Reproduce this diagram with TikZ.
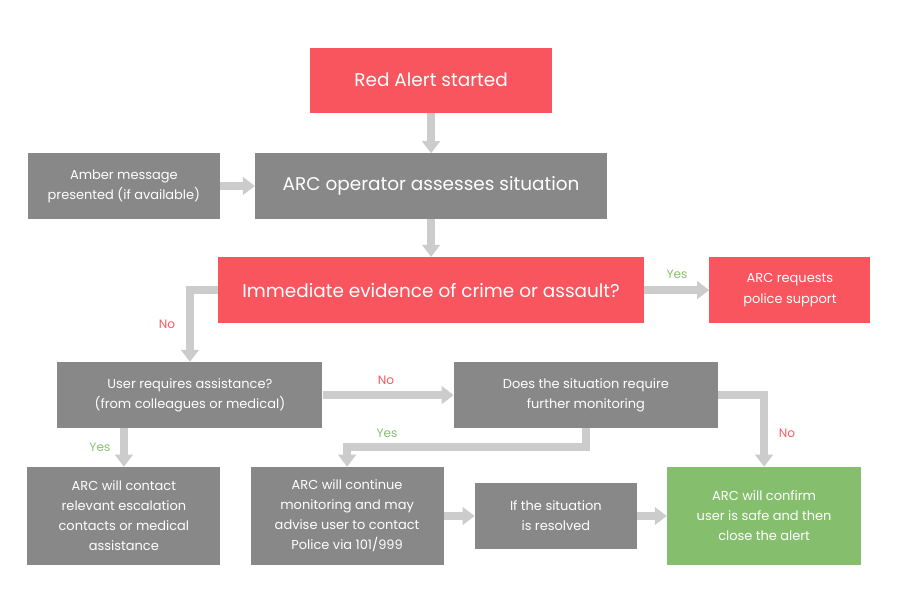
\documentclass[tikz,border=0pt]{standalone}
\usepackage{fontspec}
\setmainfont{Poppins}
\usepackage{tikz}
\usetikzlibrary{arrows.meta, positioning, calc}
\definecolor{alertred}{HTML}{F9555E}
\definecolor{boxgray}{HTML}{888888}
\definecolor{arrowgray}{HTML}{CCCCCC}
\definecolor{okgreen}{HTML}{85BF6E}
\definecolor{nored}{HTML}{F75B5F}
\definecolor{yesgreen}{HTML}{86C06E}

\begin{document}
\begin{tikzpicture}[
  box/.style={fill=boxgray, text=white, align=center, inner sep=0pt,
    font=\fontsize{12.3}{19}\selectfont, minimum height=2.2cm},
  bigbox/.style={box, font=\fontsize{17.5}{21}\selectfont},
  redbox/.style={box, fill=alertred},
  greenbox/.style={box, fill=okgreen},
  flow/.style={arrowgray, line width=7.5pt,
    -{Triangle[length=0.4cm, width=0.58cm]}},
  nolabel/.style={text=nored, font=\fontsize{11.5}{13}\selectfont},
  yeslabel/.style={text=yesgreen, font=\fontsize{11.5}{13}\selectfont}
]
  \useasboundingbox (0,0) rectangle (30,-20);

  % Top of the chart
  \node[redbox, bigbox, fill=alertred, minimum width=8.07cm, minimum height=2.17cm]
    (start) at (14.37,-2.67) {Red Alert started};
  \node[box, minimum width=6.4cm, minimum height=2.17cm]
    (amber) at (4.13,-6.2) {Amber message\\presented (if available)};
  \node[bigbox, minimum width=11.73cm, minimum height=2.17cm]
    (assess) at (14.37,-6.2) {ARC operator assesses situation};
  \node[redbox, bigbox, fill=alertred, minimum width=14.2cm]
    (crime) at (14.37,-9.67) {Immediate evidence of crime or assault?};
  \node[redbox, minimum width=5.37cm]
    (police) at (26.33,-9.67) {ARC requests\\police support};

  % Middle row
  \node[box, minimum width=8.83cm]
    (assist) at (6.33,-13.17) {User requires assistance?\\(from colleagues or medical)};
  \node[box, minimum width=8.8cm]
    (monitor) at (19.53,-13.17) {Does the situation require\\further monitoring};

  % Bottom row
  \node[box, minimum width=6.43cm, minimum height=3.27cm]
    (contact) at (4.13,-17.2) {ARC will contact\\relevant escalation\\contacts or medical\\assistance};
  \node[box, minimum width=6.43cm, minimum height=3.27cm]
    (continue) at (11.57,-17.2) {ARC will continue\\monitoring and may\\advise user to contact\\Police via 101/999};
  \node[box, minimum width=5.4cm]
    (resolved) at (18.53,-17.2) {If the situation\\is resolved};
  \node[greenbox, minimum width=6.47cm, minimum height=3.27cm]
    (confirm) at (25.47,-17.2) {ARC will confirm\\user is safe and then\\close the alert};

  % Connectors
  \draw[flow] (start) -- (assess);
  \draw[flow] (amber) -- (assess);
  \draw[flow] (assess) -- (crime);
  \draw[flow] (crime) -- (police);
  \draw[flow] (crime.west) -| (assist.north);
  \draw[flow] (assist) -- (monitor);
  \draw[flow] (contact.north |- assist.south) -- (contact.north);
  \draw[flow] (monitor.south) -- ++(0,-0.63) -| (continue.north);
  \draw[flow] (monitor.east) -| (confirm.north);
  \draw[flow] (continue) -- (resolved);
  \draw[flow] (resolved) -- (confirm);

  % Yes / No labels
  \node[yeslabel] (yes1) at (22.57,-9.13) {Yes};
  \node[nolabel] (no1) at (5.57,-10.8) {No};
  \node[nolabel] (no2) at (12.87,-12.67) {No};
  \node[yeslabel] (yes2) at (3.33,-14.9) {Yes};
  \node[yeslabel] (yes3) at (12.9,-14.43) {Yes};
  \node[nolabel] (no3) at (26.23,-14.43) {No};
\end{tikzpicture}
\end{document}
